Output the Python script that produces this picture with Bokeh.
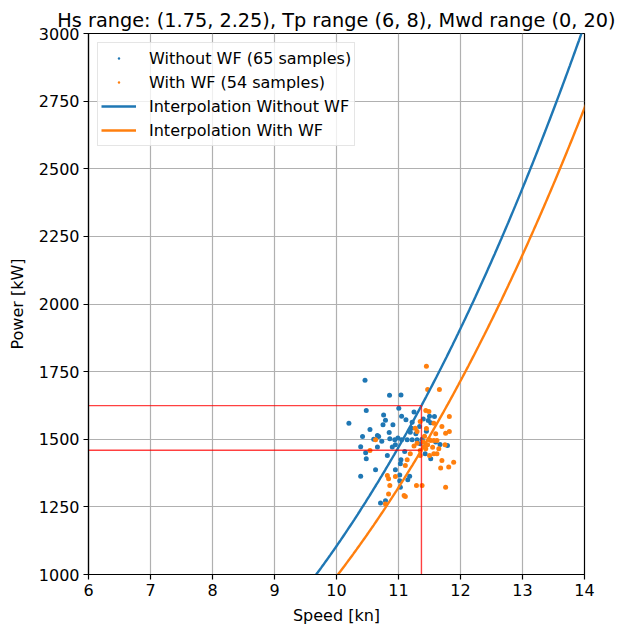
import numpy as np
from bokeh.plotting import figure
from bokeh.models import Legend, LegendItem, FixedTicker
from bokeh.embed import file_html
from bokeh.resources import INLINE

TITLE = "Hs range: (1.75, 2.25), Tp range (6, 8), Mwd range (0, 20)"

# Samples without weather forecast (speed [kn], power [kW])
speed_without = [10.46, 10.855, 11.04, 10.48, 11.005, 10.76, 11.25, 11.05, 11.50, 11.58,
                 10.20, 10.75, 10.79, 10.91, 11.12, 11.22, 11.48, 11.52, 10.54, 11.21,
                 11.34, 10.66, 10.68, 10.42, 10.86, 10.73, 10.94, 10.99, 11.05, 11.14,
                 11.22, 11.30, 11.38, 11.19, 11.67, 11.79, 10.39, 10.66, 10.90, 10.47,
                 10.82, 10.48, 11.43, 11.52, 11.04, 11.03, 10.63, 10.95, 11.18, 10.39,
                 11.02, 11.02, 11.03, 10.79, 10.71, 11.35, 11.28, 11.45, 10.95, 11.10,
                 10.60, 11.40, 11.60, 10.85, 11.15]
power_without = [1718, 1663, 1664, 1606, 1615, 1590, 1601, 1585, 1585, 1584,
                 1559, 1554, 1570, 1554, 1572, 1563, 1569, 1561, 1536, 1541,
                 1547, 1514, 1510, 1510, 1502, 1493, 1498, 1505, 1498, 1498,
                 1498, 1498, 1500, 1526, 1481, 1477, 1472, 1471, 1471, 1450,
                 1440, 1428, 1446, 1428, 1424, 1409, 1387, 1387, 1363, 1363,
                 1368, 1347, 1323, 1273, 1264, 1483, 1520, 1530, 1480, 1455,
                 1500, 1575, 1490, 1525, 1350]

# Samples with weather forecast
speed_with = [11.45, 11.47, 11.66, 11.35, 11.27, 11.30, 11.44, 11.49, 11.57, 11.70,
              11.82, 11.76, 11.82, 11.42, 11.52, 11.57, 11.62, 10.63, 10.54, 11.19,
              11.41, 11.44, 11.35, 11.57, 11.62, 11.70, 11.68, 11.81, 11.89, 11.14,
              11.11, 10.82, 10.84, 10.95, 10.86, 11.29, 11.38, 11.76, 10.84, 11.09,
              11.11, 10.79, 11.49, 11.40, 11.47, 11.55, 11.30, 11.65, 11.60, 11.35,
              11.25, 11.50, 11.75, 11.45]
power_with = [1770, 1684, 1684, 1566, 1541, 1529, 1606, 1603, 1559, 1547,
              1584, 1522, 1529, 1511, 1495, 1495, 1495, 1498, 1458, 1446,
              1471, 1465, 1458, 1446, 1446, 1421, 1394, 1397, 1415, 1424,
              1403, 1366, 1354, 1362, 1329, 1329, 1329, 1323, 1298, 1292,
              1288, 1261, 1499, 1490, 1480, 1470, 1485, 1465, 1520, 1440,
              1475, 1440, 1480, 1540]

# Cubic fit coefficients P = k * v^3
k_without = 1.105
k_with = 0.993
speed_ref = 11.37

x_ticks = [6, 7, 8, 9, 10, 11, 12, 13, 14]
y_ticks = [1000, 1250, 1500, 1750, 2000, 2250, 2500, 2750, 3000]

BLUE = "#1f77b4"
ORANGE = "#ff7f0e"
FONT = "DejaVu Sans"

p = figure(width=621, height=628, x_range=(6, 14), y_range=(1000, 3000),
           output_backend="svg", toolbar_location=None,
           min_border_left=88, min_border_right=37, min_border_top=33, min_border_bottom=54)

p.title.text = TITLE
p.title.text_font = FONT
p.title.text_font_size = "19.3px"
p.title.text_font_style = "normal"
p.title.align = "center"
p.title.text_color = "#000000"
p.title.standoff = 4

p.outline_line_color = "black"
p.outline_line_width = 1.2
p.background_fill_color = "white"

for ax in (p.xaxis, p.yaxis):
    ax.axis_label_text_font = FONT
    ax.axis_label_text_font_size = "16px"
    ax.axis_label_text_font_style = "normal"
    ax.axis_label_text_color = "#000000"
    ax.major_label_text_font = FONT
    ax.major_label_text_font_size = "16px"
    ax.major_label_text_color = "#000000"
    ax.minor_tick_line_color = None
    ax.major_tick_out = 5
    ax.major_tick_in = 0
    ax.major_tick_line_width = 1.2
    ax.axis_line_color = "black"
    ax.axis_line_width = 1.2
    ax.major_label_standoff = 4

p.xaxis.axis_label = "Speed [kn]"
p.yaxis.axis_label = "Power [kW]"
p.xaxis.ticker = FixedTicker(ticks=x_ticks)
p.yaxis.ticker = FixedTicker(ticks=y_ticks)
p.xaxis.axis_label_standoff = 7
p.yaxis.axis_label_standoff = 9

p.grid.grid_line_color = "#b0b0b0"
p.grid.grid_line_width = 1.2
p.xgrid.ticker = FixedTicker(ticks=x_ticks)
p.ygrid.ticker = FixedTicker(ticks=y_ticks)

# "dot" markers: small dots in the plot and even smaller ones in the legend
r1 = p.scatter(speed_without, power_without, marker="dot", size=20, color=BLUE)
r2 = p.scatter(speed_with, power_with, marker="dot", size=20, color=ORANGE)

v = np.linspace(9.0, 14.5, 300)
r3 = p.line(v, k_without * v ** 3, line_color=BLUE, line_width=2.4)
r4 = p.line(v, k_with * v ** 3, line_color=ORANGE, line_width=2.4)

p_ref_without = k_without * speed_ref ** 3
p_ref_with = k_with * speed_ref ** 3
RED = "#ff0000"
p.line([6, speed_ref], [p_ref_without, p_ref_without], line_color=RED, line_width=1.4, line_alpha=0.75)
p.line([6, speed_ref], [p_ref_with, p_ref_with], line_color=RED, line_width=1.4, line_alpha=0.75)
p.line([speed_ref, speed_ref], [1000, p_ref_without], line_color=RED, line_width=1.4, line_alpha=0.75)

legend = Legend(items=[
    LegendItem(label="Without WF (65 samples)", renderers=[r1]),
    LegendItem(label="With WF (54 samples)", renderers=[r2]),
    LegendItem(label="Interpolation Without WF", renderers=[r3]),
    LegendItem(label="Interpolation With WF", renderers=[r4]),
], location="top_left")
legend.label_text_font = FONT
legend.label_text_font_size = "16px"
legend.label_text_color = "#000000"
legend.label_height = 24
legend.glyph_height = 24
legend.glyph_width = 35
legend.spacing = 0
legend.padding = 3
legend.margin = 9
legend.label_standoff = 13
legend.border_line_color = "#cccccc"
legend.border_line_width = 1.2
legend.background_fill_alpha = 0.8
p.add_layout(legend)

open("out.html", "w").write(file_html(p, INLINE))
